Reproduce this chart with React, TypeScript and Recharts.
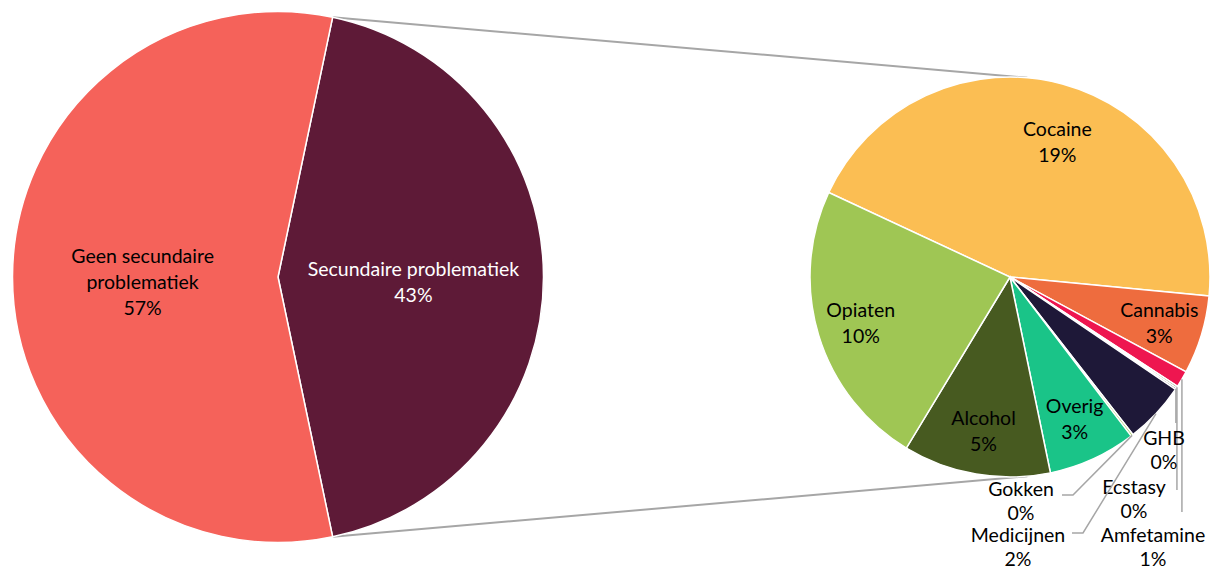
import { PieChart, Pie, Cell } from 'recharts';

// left pie: share with / without secondary problems (% of total)
const mainNames = ['Secundaire problematiek', 'Geen secundaire problematiek'];
const mainValues = [43.4, 56.6];
const mainColors = ['#5E1A37', '#F5625A'];

// right pie: split of "Secundaire problematiek" (% of total)
const drugNames = ['Cocaine', 'Cannabis', 'Amfetamine', 'Ecstasy', 'GHB', 'Medicijnen', 'Gokken', 'Overig', 'Alcohol', 'Opiaten'];
const drugValues = [19.34, 2.76, 0.58, 0.07, 0.06, 2.15, 0.08, 3.09, 5.17, 10.1];
const drugColors = ['#FBBE53', '#EE6C3E', '#EE1650', '#465A20', '#2B2B2B', '#1E1838', '#9FC654', '#1AC488', '#475A20', '#9FC654'];

const mainData = mainNames.map((name, i) => ({ name, value: mainValues[i] }));
const drugData = drugNames.map((name, i) => ({ name, value: drugValues[i] }));

const W = 1214;
const H = 568;
const FONT = 'Lato, Carlito, "Liberation Sans", sans-serif';
const FS = 19.5;
const LINE = 26;
const RAD = Math.PI / 180;

const LEFT = { cx: 278, cy: 277, r: 265.5 };
const RIGHT = { cx: 1010, cy: 277, r: 200 };
const mainTotal = mainValues.reduce((a, b) => a + b, 0);
const splitShare = mainValues[0] / mainTotal;
const leftStart = splitShare * 180;
const rightStart = 155;

function polar(cx: number, cy: number, r: number, angle: number): [number, number] {
  return [cx + r * Math.cos(-angle * RAD), cy + r * Math.sin(-angle * RAD)];
}

// label wraps for the big pie
const mainWrap: Record<string, string[]> = {
  'Geen secundaire problematiek': ['Geen secundaire', 'problematiek'],
};

// inside label tweaks (radius factor, angle shift) for the small pie
const insideTweak: Record<string, { f: number; da: number }> = {
  Cocaine: { f: 0.72, da: -4 },
};

// outside labels of the small pie: label centre and leader path relative to pie centre
// (null x means: keep the x of the point on the arc)
const outside: Record<string, { lx: number; ly: number; path: Array<[number | null, number]> }> = {
  GHB: { lx: 154, ly: 172, path: [[null, 146]] },
  Ecstasy: { lx: 124, ly: 221, path: [[null, 213]] },
  Amfetamine: { lx: 143, ly: 269, path: [[null, 235]] },
  Gokken: { lx: 11, ly: 223, path: [[63, 218], [52, 218]] },
  Medicijnen: { lx: 8, ly: 269, path: [[73, 256], [62, 256]] },
};
const OUT_LINE = 24;

function Lines({ x, y, lines, fill, gap = LINE }: { x: number; y: number; lines: string[]; fill: string; gap?: number }) {
  const top = y - ((lines.length - 1) * gap) / 2;
  return (
    <g>
      {lines.map((t, i) => (
        <text
          key={i}
          x={x}
          y={top + i * gap}
          textAnchor="middle"
          dominantBaseline="central"
          fontFamily={FONT}
          fontSize={FS}
          fill={fill}
        >
          {t}
        </text>
      ))}
    </g>
  );
}

function renderMainLabel(props: any) {
  const { cx, cy, midAngle, outerRadius, name, value } = props;
  const [x, y] = polar(cx, cy, outerRadius * 0.51, midAngle);
  const lines = [...(mainWrap[name] || [name]), `${Math.round(value)}%`];
  const fill = name === 'Secundaire problematiek' ? '#FFFFFF' : '#000000';
  return <Lines key={name} x={x} y={y + 4} lines={lines} fill={fill} />;
}

function renderDrugLabel(props: any) {
  const { cx, cy, midAngle, outerRadius, name, value } = props;
  const lines = [name, `${Math.round(value)}%`];
  const o = outside[name];
  if (o) {
    const [ax, ay] = polar(cx, cy, outerRadius, midAngle);
    const pts = [[ax, ay], ...o.path.map(([px, py]) => [px === null ? ax : cx + px, cy + py])];
    return (
      <g key={name}>
        <polyline
          points={pts.map((p) => p.join(',')).join(' ')}
          fill="none"
          stroke="#A6A6A6"
          strokeWidth={1.5}
        />
        <Lines x={cx + o.lx} y={cy + o.ly} lines={lines} fill="#000000" gap={OUT_LINE} />
      </g>
    );
  }
  const tw = insideTweak[name] || { f: 0.78, da: 0 };
  const [x, y] = polar(cx, cy, outerRadius * tw.f, midAngle + tw.da);
  return <Lines key={name} x={x} y={y} lines={lines} fill="#000000" />;
}

// connector lines: split slice edges of the big pie to tangent points of the small pie
function connectors() {
  const res: Array<[number, number, number, number]> = [];
  [leftStart, -leftStart].forEach((a, i) => {
    const [px, py] = polar(LEFT.cx, LEFT.cy, LEFT.r, a);
    const dx = px - RIGHT.cx;
    const dy = RIGHT.cy - py;
    const d = Math.hypot(dx, dy);
    const theta = Math.atan2(dy, dx) / RAD;
    const alpha = Math.acos(RIGHT.r / d) / RAD;
    const t = i === 0 ? theta - alpha : theta + alpha;
    const [tx, ty] = polar(RIGHT.cx, RIGHT.cy, RIGHT.r, t);
    res.push([px, py, tx, ty]);
  });
  return res;
}

export default function App() {
  return (
    <div style={{ position: 'absolute', left: 0, top: 0, width: W, height: H, background: '#fff' }}>
      <svg width={W} height={H} style={{ position: 'absolute', left: 0, top: 0 }}>
        {connectors().map(([x1, y1, x2, y2], i) => (
          <line key={i} x1={x1} y1={y1} x2={x2} y2={y2} stroke="#A6A6A6" strokeWidth={2} />
        ))}
      </svg>
      <div style={{ position: 'absolute', left: 0, top: 0 }}>
        <PieChart width={W} height={H} margin={{ top: 0, right: 0, bottom: 0, left: 0 }}>
          <Pie
            data={mainData}
            dataKey="value"
            nameKey="name"
            cx={LEFT.cx}
            cy={LEFT.cy}
            outerRadius={LEFT.r}
            startAngle={leftStart}
            endAngle={leftStart - 360}
            stroke="#FFFFFF"
            strokeWidth={1.5}
            label={renderMainLabel}
            labelLine={false}
            isAnimationActive={false}
          >
            {mainData.map((d, i) => (
              <Cell key={d.name} fill={mainColors[i]} />
            ))}
          </Pie>
          <Pie
            data={drugData}
            dataKey="value"
            nameKey="name"
            cx={RIGHT.cx}
            cy={RIGHT.cy}
            outerRadius={RIGHT.r}
            startAngle={rightStart}
            endAngle={rightStart - 360}
            stroke="#FFFFFF"
            strokeWidth={1.5}
            label={renderDrugLabel}
            labelLine={false}
            isAnimationActive={false}
          >
            {drugData.map((d, i) => (
              <Cell key={d.name} fill={drugColors[i]} />
            ))}
          </Pie>
        </PieChart>
      </div>
    </div>
  );
}
